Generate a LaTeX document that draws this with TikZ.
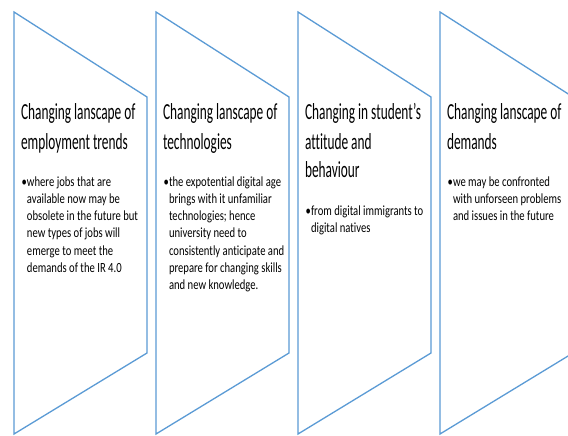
\documentclass[tikz,border=0pt]{standalone}
\usepackage{fontspec}
\setmainfont{Carlito}
\newfontfamily\titlefont[FakeStretch=0.58,Ligatures=NoCommon]{Carlito}
\newfontfamily\bulletfont[FakeStretch=0.76,Ligatures=NoCommon]{Carlito}
\definecolor{edgeblue}{HTML}{5B9BD5}
\begin{document}
\begin{tikzpicture}[x=1pt,y=-1pt,
  chev/.style={draw=edgeblue, line width=1.3pt, fill=white, line join=miter},
  ttl/.style={anchor=base west, inner sep=0pt, outer sep=0pt, text width=135pt, align=flush left,
    font=\titlefont\fontsize{23}{29}\selectfont},
  btxt/.style={anchor=base west, inner sep=0pt, outer sep=0pt, text width=135pt, align=flush left,
    font=\bulletfont\fontsize{14}{17.3}\selectfont},
  bdot/.style={anchor=base west, inner sep=0pt, outer sep=0pt, font=\bulletfont\fontsize{14}{17.3}\selectfont}]
\useasboundingbox (0,0) rectangle (568,436);
\clip (0,0) rectangle (568,436);
\fill[white] (0,0) rectangle (568,436);
\foreach \L in {14,156,298,440}{
  \draw[chev] (\L,12) -- (\L+133,97) -- (\L+133,353) -- (\L,434) -- cycle;
}
% column 1
\node[ttl] (t1) at (21,120) {Changing lanscape of\\employment trends};
\node[bdot] (d1) at (21.5,186) {•};
\node[btxt] (b1) at (27,186) {where jobs that are\\available now may be\\obsolete in the future but\\new types of jobs will\\emerge to meet the\\demands of the IR 4.0};
% column 2
\node[ttl] (t2) at (163,120) {Changing lanscape of\\technologies};
\node[bdot] (d2) at (163.5,186) {•};
\node[btxt] (b2) at (169,186) {the expotential digital age\\brings with it unfamiliar\\technologies; hence\\university need to\\consistently anticipate and\\prepare for changing skills\\and new knowledge.};
% column 3
\node[ttl] (t3) at (305,120) {Changing in student’s\\attitude and\\behaviour};
\node[bdot] (d3) at (305.5,215) {•};
\node[btxt] (b3) at (311,215) {from digital immigrants to\\digital natives};
% column 4
\node[ttl] (t4) at (447,120) {Changing lanscape of\\demands};
\node[bdot] (d4) at (447.5,186) {•};
\node[btxt] (b4) at (453,186) {we may be confronted\\with unforseen problems\\and issues in the future};
\end{tikzpicture}
\end{document}
